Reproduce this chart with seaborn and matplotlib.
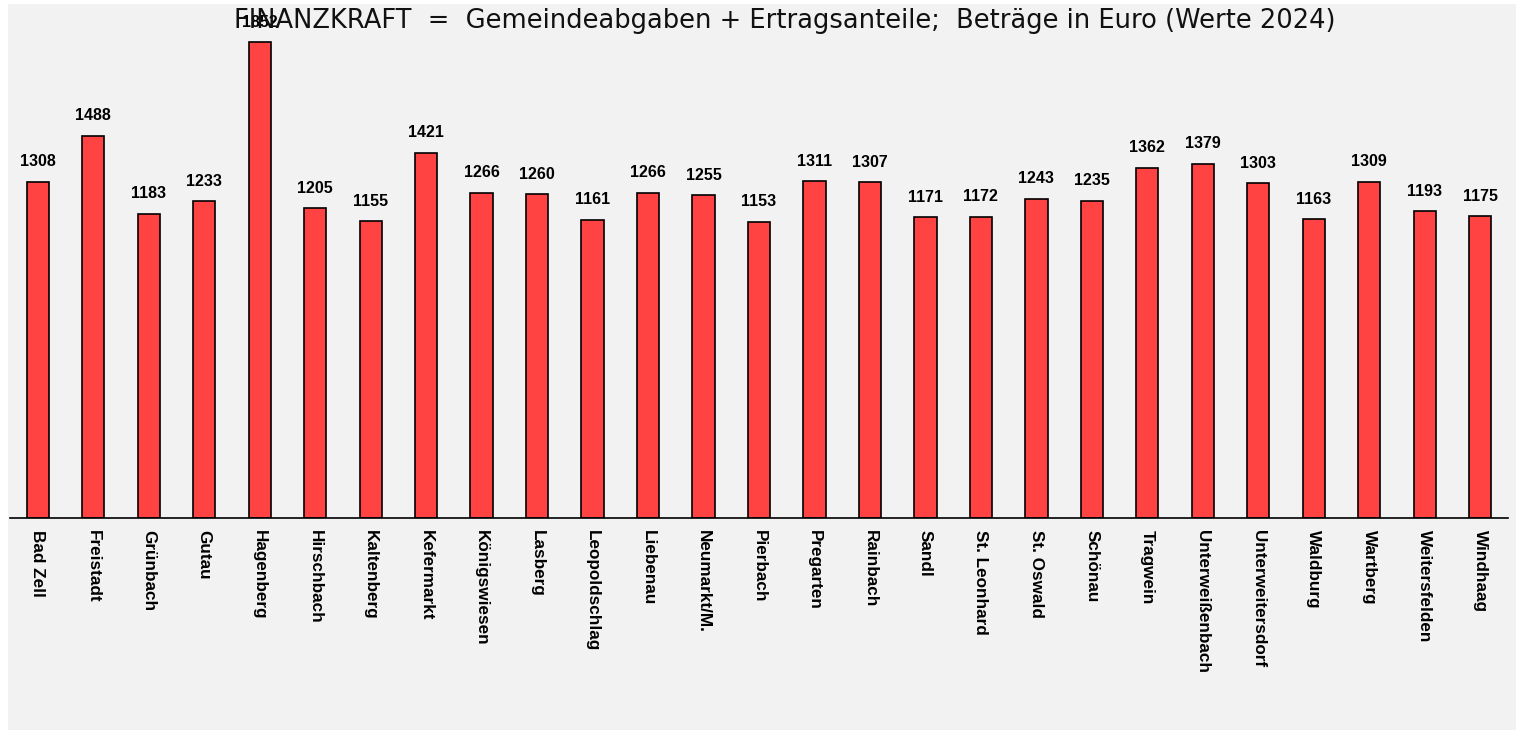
import matplotlib
matplotlib.use("Agg")
import matplotlib.pyplot as plt
from matplotlib.patches import Rectangle
import seaborn as sns
import pandas as pd

gemeinden = ["Bad Zell", "Freistadt", "Grünbach", "Gutau", "Hagenberg", "Hirschbach",
             "Kaltenberg", "Kefermarkt", "Königswiesen", "Lasberg", "Leopoldschlag",
             "Liebenau", "Neumarkt/M.", "Pierbach", "Pregarten", "Rainbach", "Sandl",
             "St. Leonhard", "St. Oswald", "Schönau", "Tragwein", "Unterweißenbach",
             "Unterweitersdorf", "Waldburg", "Wartberg", "Weitersfelden", "Windhaag"]
finanzkraft = [1308, 1488, 1183, 1233, 1852, 1205, 1155, 1421, 1266, 1260, 1161,
               1266, 1255, 1153, 1311, 1307, 1171, 1172, 1243, 1235, 1362, 1379,
               1303, 1163, 1309, 1193, 1175]
titel = "FINANZKRAFT  =  Gemeindeabgaben + Ertragsanteile;  Beträge in Euro (Werte 2024)"

df = pd.DataFrame({"Gemeinde": gemeinden, "Finanzkraft": finanzkraft})

sns.set_theme(style="white")
plt.rcParams["font.family"] = ["Liberation Sans", "DejaVu Sans"]

W, H = 1516, 730
fig = plt.figure(figsize=(W / 100, H / 100), dpi=100, facecolor="white")
fig.patches.append(Rectangle((8 / W, 0), 1 - 8 / W, 1 - 4 / H, transform=fig.transFigure,
                             facecolor="#f2f2f2", edgecolor="none", zorder=-10))

ax = fig.add_axes([10 / W, (H - 518) / H, 1498 / W, 514 / H])
ax.set_facecolor("none")
ax.patch.set_alpha(0)

sns.barplot(data=df, x="Gemeinde", y="Finanzkraft", color="#ff4242", width=0.4,
            edgecolor="black", linewidth=1.2, saturation=1, ax=ax)

ax.set_xlim(-0.5, len(gemeinden) - 0.5)
ax.set_ylim(0, 2000)
ax.set_xlabel("")
ax.set_ylabel("")
ax.set_yticks([])
for s in ["top", "left", "right"]:
    ax.spines[s].set_visible(False)
ax.spines["bottom"].set_color("black")
ax.spines["bottom"].set_linewidth(1.2)
ax.tick_params(axis="x", length=0, pad=9)
ax.set_xticks(range(len(gemeinden)))
ax.set_xticklabels(gemeinden, rotation=-90, fontsize=12.3, fontweight="bold",
                   va="top", ha="center", color="black")

for i, v in enumerate(finanzkraft):
    ax.annotate(str(v), (i, v), xytext=(0, 9), textcoords="offset points",
                ha="center", va="bottom", fontsize=11.5, fontweight="bold", color="black")

fig.text(785 / W, 1 - 21 / H, titel, ha="center", va="center", fontsize=18.5,
         family=["DejaVu Sans"], color="#111111", zorder=5)

fig.savefig("out.png", dpi=100, facecolor=fig.get_facecolor())
